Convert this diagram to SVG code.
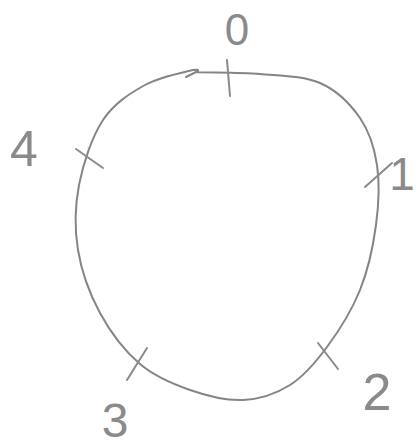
<svg xmlns="http://www.w3.org/2000/svg" width="417" height="447" viewBox="0 0 417 447">
<style>
.s{fill:none;stroke:#858585;stroke-width:2;stroke-linecap:round;stroke-linejoin:round}
.t{stroke:#8a8a8a;stroke-width:2;stroke-linecap:round}
.l{font-family:"Liberation Sans",Arial,sans-serif;fill:#8a8a8a;text-anchor:middle}
</style>
<rect width="417" height="447" fill="#fff"/>
<g id="connectors">
<path class="s" d="M196,72 C207.2,72.7 239.3,72.2 260,74 C280.7,75.8 303.3,75.7 320,83 C336.7,90.3 350.5,104.3 360,118 C369.5,131.7 374.3,147.2 377,165 C379.7,182.8 378.8,204.2 376,225 C373.2,245.8 368.2,269.7 360,290 C351.8,310.3 338.7,331.2 327,347 C315.3,362.8 304,376.2 290,385 C276,393.8 259.7,399.2 243,400 C226.3,400.8 207.2,396 190,390 C172.8,384 155,376.8 140,364 C125,351.2 110.3,332 100,313 C89.7,294 81.5,271.3 78,250 C74.5,228.7 74.8,206.7 79,185 C83.2,163.3 92,136.7 103,120 C114,103.3 130,93.3 145,85 C160,76.7 184.5,72.2 193,70 Q199,69 198,71 L186,77"/>
</g>
<g id="node-0">
<line class="t" x1="227" y1="60" x2="230" y2="96"/>
<text class="l" x="237" y="45" font-size="44">0</text>
</g>
<g id="node-1">
<line class="t" x1="365" y1="187" x2="392" y2="163"/>
<text class="l" x="402" y="190" font-size="46">1</text>
</g>
<g id="node-2">
<line class="t" x1="318" y1="343" x2="338" y2="369"/>
<text class="l" x="377" y="410" font-size="52">2</text>
</g>
<g id="node-3">
<line class="t" x1="147" y1="348" x2="127" y2="380"/>
<text class="l" x="115" y="437" font-size="48">3</text>
</g>
<g id="node-4">
<line class="t" x1="76" y1="149" x2="103" y2="168"/>
<text class="l" x="24" y="166" font-size="50">4</text>
</g>
</svg>
